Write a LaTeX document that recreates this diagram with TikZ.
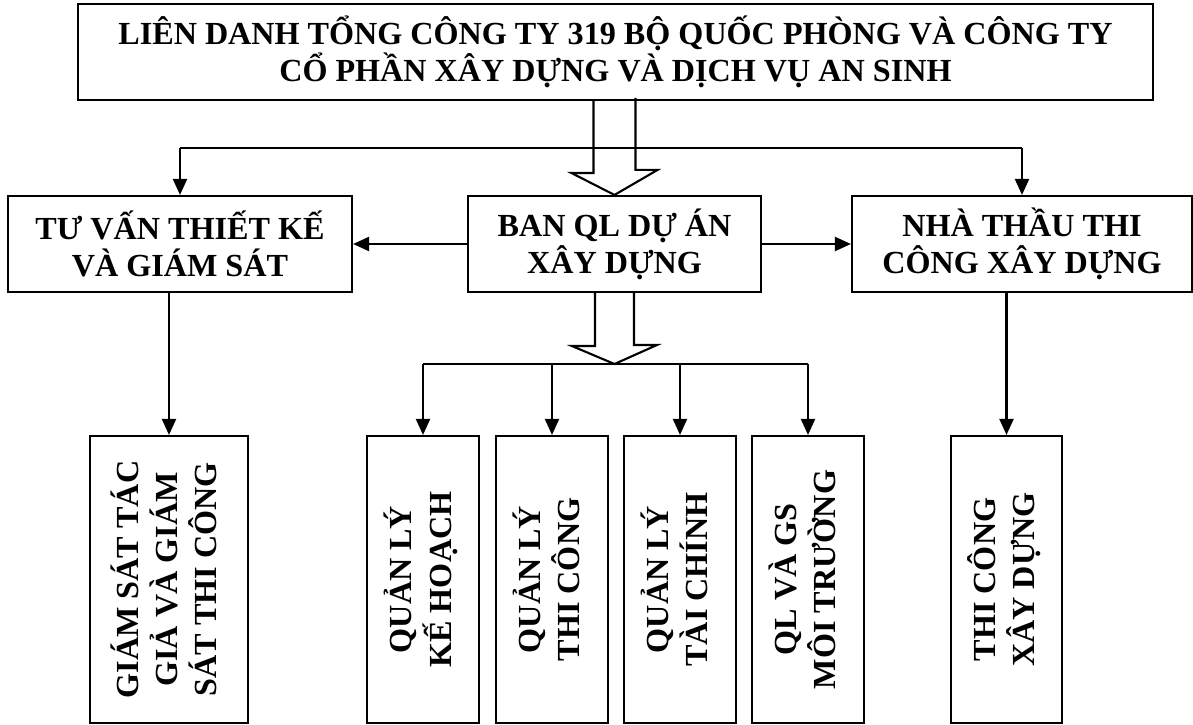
\documentclass[tikz,border=0pt]{standalone}
\usepackage{fontspec}
\setmainfont{Liberation Serif}
\usepackage{graphicx}
\usetikzlibrary{arrows.meta}

\begin{document}
\begin{tikzpicture}[
    y=-1cm,
    line width=1.2pt,
    every node/.style={font=\bfseries\fontsize{18.3}{21}\selectfont, align=center, inner sep=0pt},
    box/.style={draw, rectangle, minimum height=1.92cm},
    tallbox/.style={draw, rectangle, minimum height=5.74cm},
    arr/.style={-{Triangle[length=0.32cm, width=0.28cm]}}
    ]

    \useasboundingbox (0,0) rectangle (23.86,14.5);

    % Nodes
    \node[box, minimum width=21.5cm] (liendanh) at (12.31,1.04)
        {LIÊN DANH TỔNG CÔNG TY 319 BỘ QUỐC PHÒNG VÀ CÔNG TY\\CỔ PHẦN XÂY DỰNG VÀ DỊCH VỤ AN SINH};
    \node[box, minimum width=6.88cm] (tuvan) at (3.6,4.88) {TƯ VẤN THIẾT KẾ\\VÀ GIÁM SÁT};
    \node[box, minimum width=5.86cm] (banql) at (12.29,4.88) {BAN QL DỰ ÁN\\XÂY DỰNG};
    \node[box, minimum width=6.8cm] (nhathau) at (20.44,4.88) {NHÀ THẦU THI\\CÔNG XÂY DỰNG};

    \node[tallbox, minimum width=3.16cm] (giamsat) at (3.38,11.59)
        {\rotatebox{90}{\begin{tabular}{@{}c@{}}GIÁM SÁT TÁC\\GIẢ VÀ GIÁM\\SÁT THI CÔNG\end{tabular}}};
    \node[tallbox, minimum width=2.24cm] (kehoach) at (8.46,11.59)
        {\rotatebox{90}{\begin{tabular}{@{}c@{}}QUẢN LÝ\\KẾ HOẠCH\end{tabular}}};
    \node[tallbox, minimum width=2.24cm] (thicong) at (11.04,11.59)
        {\rotatebox{90}{\begin{tabular}{@{}c@{}}QUẢN LÝ\\THI CÔNG\end{tabular}}};
    \node[tallbox, minimum width=2.24cm] (taichinh) at (13.6,11.59)
        {\rotatebox{90}{\begin{tabular}{@{}c@{}}QUẢN LÝ\\TÀI CHÍNH\end{tabular}}};
    \node[tallbox, minimum width=2.24cm] (moitruong) at (16.16,11.59)
        {\rotatebox{90}{\begin{tabular}{@{}c@{}}QL VÀ GS\\MÔI TRƯỜNG\end{tabular}}};
    \node[tallbox, minimum width=2.22cm] (xaydung) at (20.13,11.59)
        {\rotatebox{90}{\begin{tabular}{@{}c@{}}THI CÔNG\\XÂY DỰNG\end{tabular}}};

    \coordinate (bustop) at (12.3,2.96);
    \coordinate (busmid) at (12.29,7.28);

    % Edges
    \draw (tuvan.north |- bustop) -- (nhathau.north |- bustop);
    \draw[arr] (tuvan.north |- bustop) -- (tuvan.north);
    \draw[arr] (nhathau.north |- bustop) -- (nhathau.north);
    \draw[arr] (banql.west) -- (tuvan.east);
    \draw[arr] (banql.east) -- (nhathau.west);

    \draw (liendanh.south -| banql.north) ++(-0.42,0) -- ++(0,1.44) -- ++(-0.44,0)
        -- (banql.north) -- ++(0.86,-0.5) -- ++(-0.44,0) -- ++(0,-1.44);

    \draw (banql.south) ++(-0.39,0) -- ++(0,1.06) -- ++(-0.46,0)
        -- (busmid) -- ++(0.85,-0.38) -- ++(-0.46,0) -- ++(0,-1.06);
    \draw (kehoach.north |- busmid) -- (moitruong.north |- busmid);
    \foreach \k in {kehoach, thicong, taichinh, moitruong}
        \draw[arr] (\k.north |- busmid) -- (\k.north);

    \draw[arr] (tuvan.south -| giamsat.north) -- (giamsat.north);
    \draw[arr] (nhathau.south -| xaydung.north) -- (xaydung.north);

\end{tikzpicture}
\end{document}
